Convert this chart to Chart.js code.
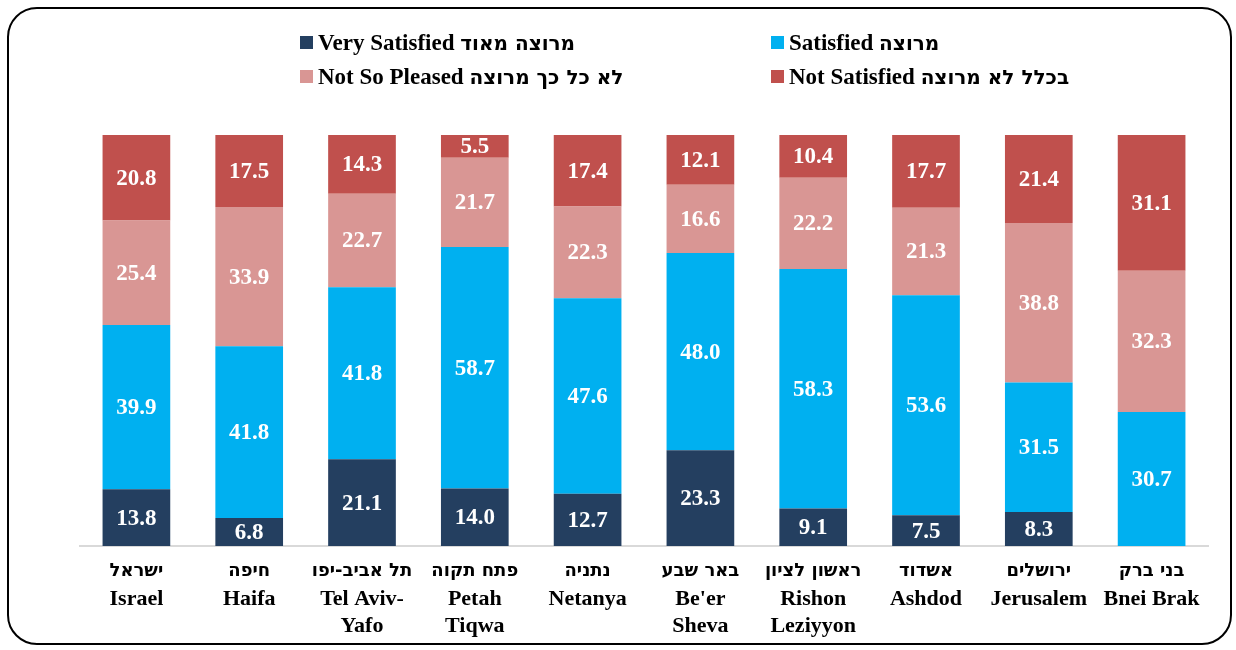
<!DOCTYPE html>
<html>
<head>
<meta charset="utf-8">
<script src="https://cdn.jsdelivr.net/npm/chart.js@4"></script>
<style>
body { margin: 0; background: #fff; }
#frame {
    position: absolute; left: 7px; top: 7px; width: 1221px; height: 634px;
    border: 2px solid #000; border-radius: 30px;
}
#wrap { position: absolute; left: 0; top: 0; width: 1236px; height: 650px; }
.leg {
    position: absolute; font: bold 23px "Liberation Serif", "Times New Roman", serif;
    color: #000; white-space: nowrap; line-height: 24px;
}
.leg .he { font: bold 20px "DejaVu Sans", sans-serif; }
.leg span.box {
    display: inline-block; width: 13px; height: 13px; margin-right: 5px; vertical-align: 1px;
}
</style>
</head>
<body>
<div id="frame"></div>
<div id="wrap"><canvas id="chart" width="1236" height="650"></canvas></div>
<div id="legend"></div>
<script>
// categories: Hebrew name, English name lines
const citiesHe = ['ישראל', 'חיפה', 'תל אביב-יפו', 'פתח תקוה', 'נתניה', 'באר שבע', 'ראשון לציון', 'אשדוד', 'ירושלים', 'בני ברק'];
const citiesEn = [
    ['Israel'], ['Haifa'], ['Tel Aviv-', 'Yafo'], ['Petah', 'Tiqwa'], ['Netanya'],
    ["Be'er", 'Sheva'], ['Rishon', 'Leziyyon'], ['Ashdod'], ['Jerusalem'], ['Bnei Brak']
];

const verySatisfied = [13.8, 6.8, 21.1, 14.0, 12.7, 23.3, 9.1, 7.5, 8.3, null];
const satisfied     = [39.9, 41.8, 41.8, 58.7, 47.6, 48.0, 58.3, 53.6, 31.5, 30.7];
const notSoPleased  = [25.4, 33.9, 22.7, 21.7, 22.3, 16.6, 22.2, 21.3, 38.8, 32.3];
const notSatisfied  = [20.8, 17.5, 14.3, 5.5, 17.4, 12.1, 10.4, 17.7, 21.4, 31.1];

const seriesEn = ['Very Satisfied', 'Satisfied', 'Not So Pleased', 'Not Satisfied'];
const seriesHe = ['מרוצה מאוד', 'מרוצה', 'לא כל כך מרוצה', 'בכלל לא מרוצה'];
const seriesColors = ['#243F60', '#00B0F0', '#D99694', '#C0504D'];
const allSeries = [verySatisfied, satisfied, notSoPleased, notSatisfied];

// 100% stacked: each column scaled to its own total
const totals = citiesEn.map((c, i) => allSeries.reduce((s, arr) => s + (arr[i] || 0), 0));

const datasets = allSeries.map((arr, k) => ({
    label: seriesEn[k] + ' ' + seriesHe[k],
    data: arr.map((v, i) => v == null ? null : v / totals[i] * 100),
    raw: arr,
    backgroundColor: seriesColors[k],
    barPercentage: 0.6,
    categoryPercentage: 1.0
}));

// legend laid out in two columns like the original
const legendPos = [[300, 31], [771, 31], [300, 65], [771, 65]];
const legendEl = document.getElementById('legend');
seriesEn.forEach((name, k) => {
    const d = document.createElement('div');
    d.className = 'leg';
    d.style.left = legendPos[k][0] + 'px';
    d.style.top = legendPos[k][1] + 'px';
    d.innerHTML = '<span class="box" style="background:' + seriesColors[k] + '"></span>' +
        name + ' <span class="he">' + seriesHe[k] + '</span>';
    legendEl.appendChild(d);
});

const segmentLabels = {
    id: 'segmentLabels',
    afterDatasetsDraw(chart) {
        const ctx = chart.ctx;
        ctx.save();
        ctx.fillStyle = '#fff';
        ctx.font = 'bold 23px "Liberation Serif", serif';
        ctx.textAlign = 'center';
        ctx.textBaseline = 'middle';
        chart.data.datasets.forEach((ds, k) => {
            chart.getDatasetMeta(k).data.forEach((bar, i) => {
                const v = ds.raw[i];
                if (v == null) return;
                ctx.fillText(v.toFixed(1), bar.x, (bar.y + bar.base) / 2 + 1);
            });
        });
        ctx.restore();
    }
};

// category labels: bold Hebrew line on top, English lines below
const cityLabels = {
    id: 'cityLabels',
    afterDraw(chart) {
        const ctx = chart.ctx;
        const xs = chart.scales.x;
        const top = chart.chartArea.bottom;
        ctx.save();
        ctx.fillStyle = '#000';
        ctx.textAlign = 'center';
        ctx.textBaseline = 'middle';
        citiesHe.forEach((he, i) => {
            const x = xs.getPixelForTick(i);
            ctx.font = 'bold 18px "DejaVu Sans", sans-serif';
            ctx.fillText(he, x, top + 25);
            ctx.font = 'bold 22px "Liberation Serif", serif';
            citiesEn[i].forEach((line, j) => {
                ctx.fillText(line, x, top + 53 + j * 27.5);
            });
        });
        ctx.restore();
    }
};

new Chart(document.getElementById('chart'), {
    type: 'bar',
    data: { labels: citiesEn.map(l => l.join(' ')), datasets: datasets },
    options: {
        responsive: false,
        animation: false,
        layout: { padding: { left: 80, right: 28, top: 135, bottom: 104 } },
        plugins: { legend: { display: false }, tooltip: { enabled: false } },
        scales: {
            x: {
                stacked: true,
                grid: { display: false, drawTicks: false },
                border: { display: true, color: '#D9D9D9', width: 2 },
                ticks: { display: false }
            },
            y: {
                stacked: true,
                display: false,
                min: 0,
                max: 100
            }
        }
    },
    plugins: [segmentLabels, cityLabels]
});
</script>
</body>
</html>
